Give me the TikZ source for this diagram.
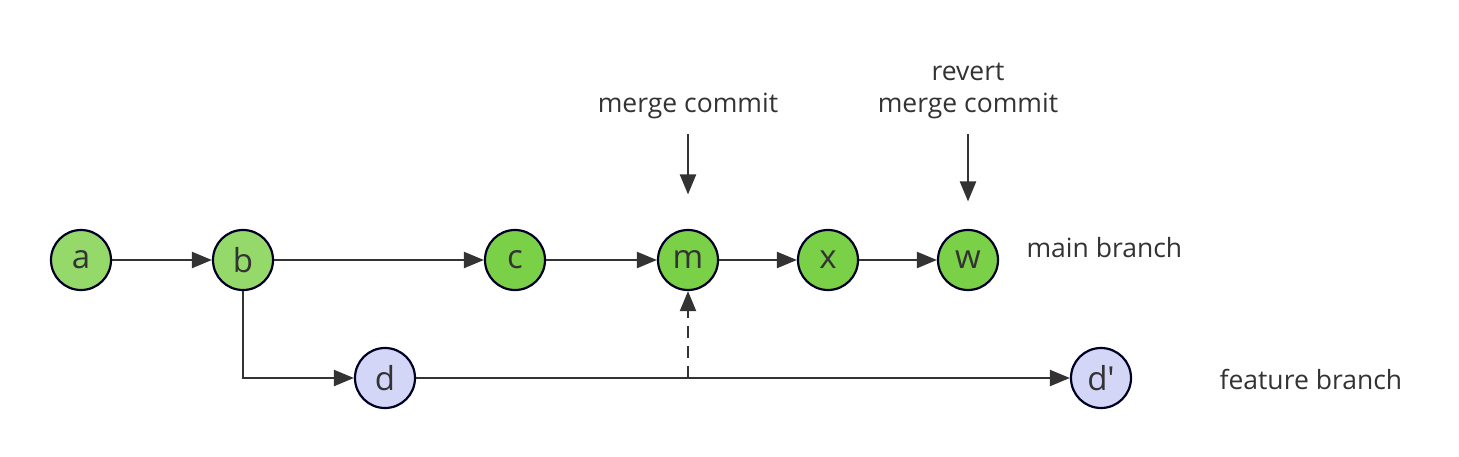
\documentclass[tikz,border=0pt]{standalone}
\usepackage{fontspec}
\setmainfont{Open Sans}
\usetikzlibrary{arrows.meta}

\begin{document}
\begin{tikzpicture}[x=1pt, y=-1pt,
    commit/.style={circle, draw=black!85!blue, line width=2.2pt, minimum size=60pt,
                   inner sep=0pt, font=\fontsize{33}{33}\selectfont, text=black!80},
    mainold/.style={commit, fill={rgb,255:red,149;green,217;blue,107}},
    main/.style={commit, fill={rgb,255:red,122;green,208;blue,71}},
    feat/.style={commit, fill={rgb,255:red,212;green,214;blue,247}},
    note/.style={font=\fontsize{26.5}{32}\selectfont, text=black!80, align=center},
    link/.style={line width=2.2pt, draw=black!80, -{Triangle[length=20pt,width=16pt]}}]
  \useasboundingbox (0,0) rectangle (1459,456);
  % main branch
  \node[mainold] (a) at (81,260) {a};
  \node[mainold] (b) at (243,260) {b};
  \node[main] (c) at (515,260) {c};
  \node[main] (m) at (688,260) {m};
  \node[main] (x) at (828,260) {x};
  \node[main] (w) at (968,260) {w};
  % feature branch
  \node[feat] (d) at (385,378) {d};
  \node[feat] (d') at (1101,378) {d\textquotesingle};
  % labels
  \node[note, anchor=west] (mainlbl) at (1023,248) {main branch};
  \node[note, anchor=west] (featlbl) at (1216,379) {feature branch};
  \node[note] (mlbl) at (688,106) {merge commit};
  \node[note] (wlbl) at (968,91) {revert\\merge commit};
  \coordinate (join) at (688,378);
  \draw[link] (a) -- (b);
  \draw[link] (b) -- (c);
  \draw[link] (c) -- (m);
  \draw[link] (m) -- (x);
  \draw[link] (x) -- (w);
  \draw[link] (b) |- (d);
  \draw[link] (d) -- (d');
  \draw[link, dashed, dash pattern=on 12pt off 8pt] (join) -- (m);
  \draw[link] (mlbl.south) ++(0,12) -- ++(0,60);
  \draw[link] (wlbl.south) ++(0,12) -- ++(0,67);
\end{tikzpicture}
\end{document}
